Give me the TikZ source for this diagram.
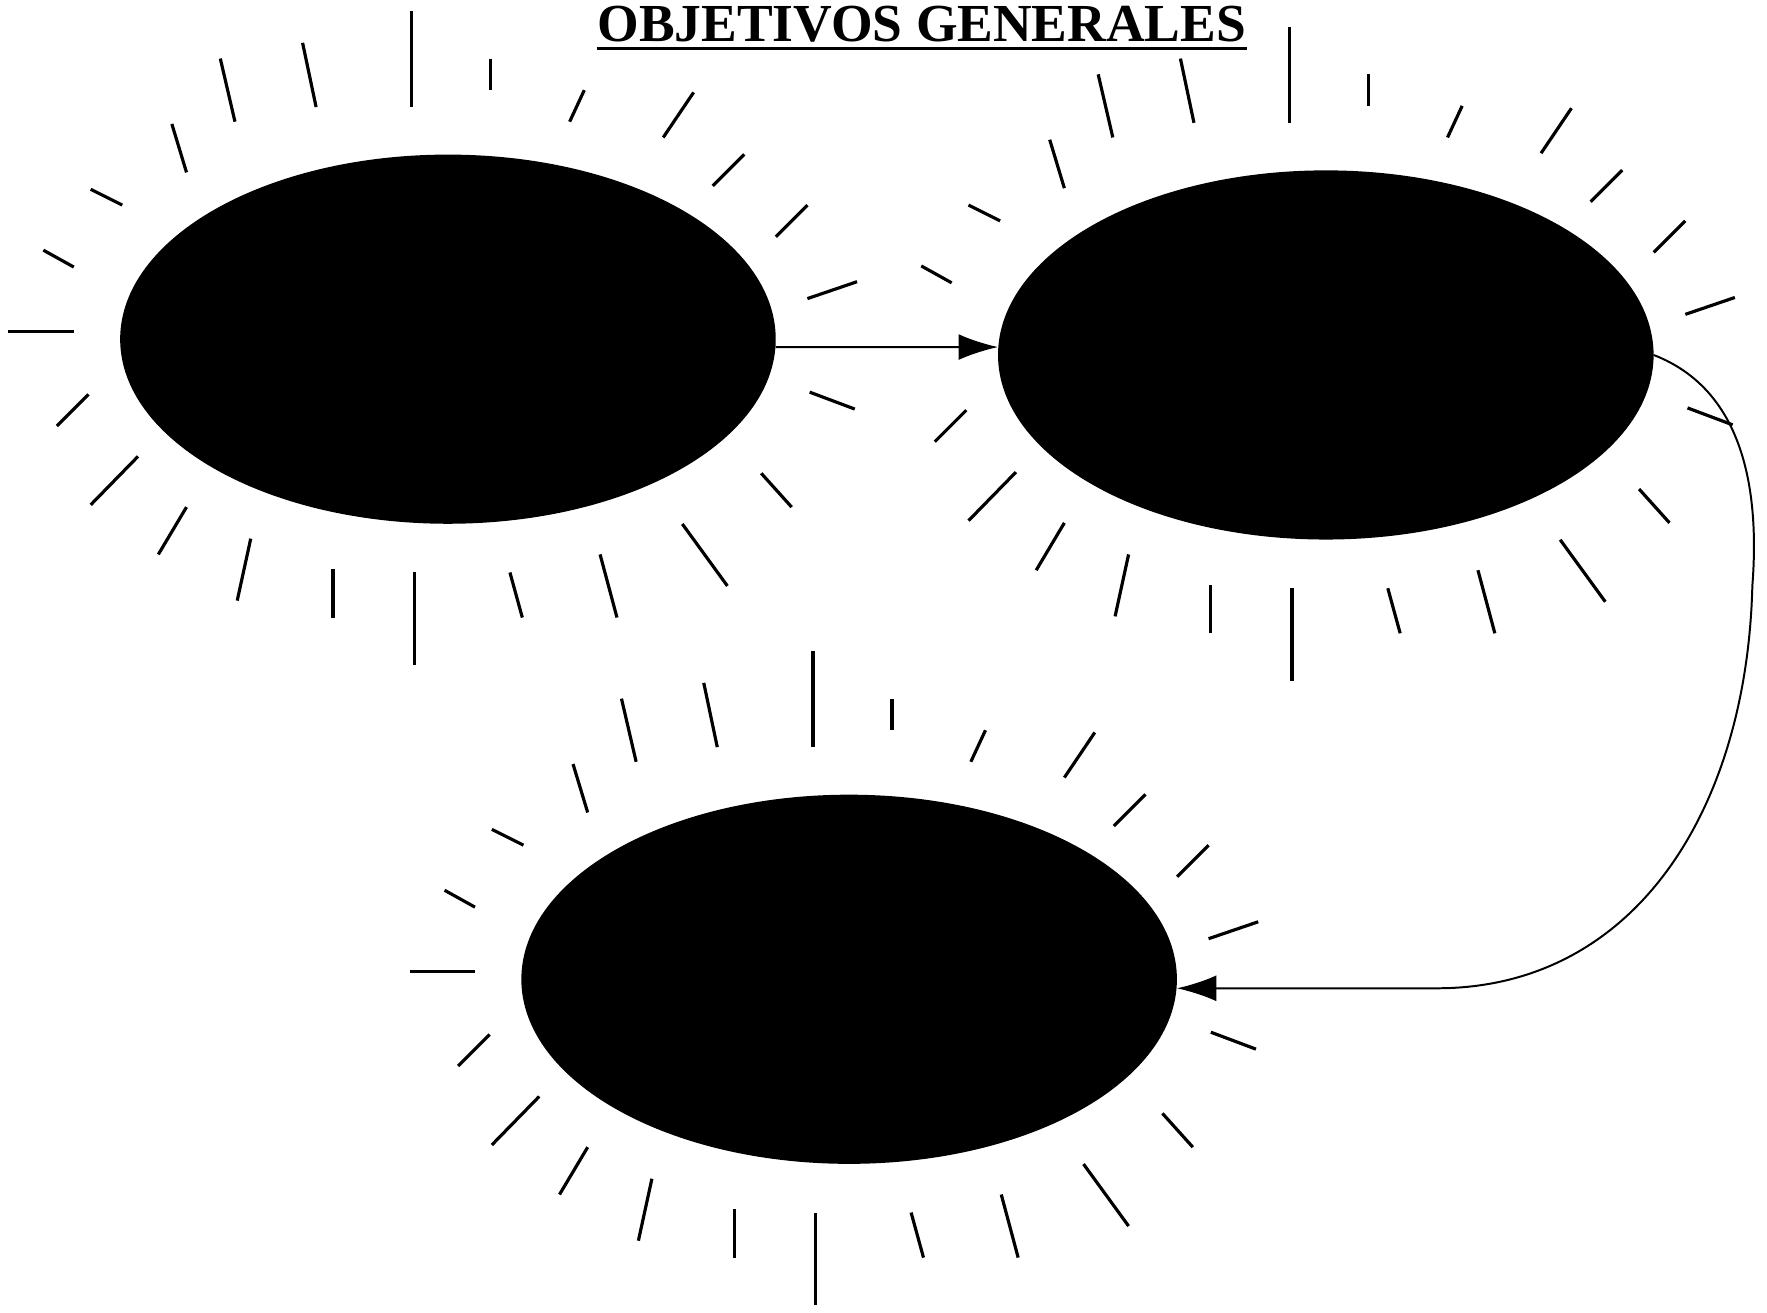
\documentclass[tikz,border=0pt]{standalone}
\usepackage{fontspec}
\setmainfont{Liberation Serif}
\usepackage{tikz}
\usetikzlibrary{shapes.geometric,arrows.meta,positioning}
\tikzset{
  goal/.style    = {ellipse, draw, fill=black, inner sep=0pt,
                    minimum width=5.8cm, minimum height=3.26cm},
  heading/.style = {font=\fontsize{13.5}{16}\selectfont\bfseries, inner sep=0pt},
  arr/.style     = {-{Latex[length=3.5mm,width=2.3mm]}, line width=0.5pt},
  ray/.style     = {line width=0.8pt},
  rays/.pic      = {
    \draw[ray] (-32,-291) -- (-32,-206);
    \draw[ray] (38,-249) -- (38,-221);
    \draw[ray] (-129,-263) -- (-117,-206);
    \draw[ray] (-202,-249) -- (-189,-193);
    \draw[ray] (-245,-191) -- (-232,-148);
    \draw[ray] (-317,-133) -- (-289,-119);
    \draw[ray] (-359,-79) -- (-332,-64);
    \draw[ray] (-347,77) -- (-319,49);
    \draw[ray] (-317,147) -- (-275,104);
    \draw[ray] (-257,191) -- (-232,149);
    \draw[ray] (-187,232) -- (-175,177);
    \draw[ray] (-102,247) -- (-102,204);
    \draw[ray] (-30,289) -- (-30,207);
    \draw[ray] (55,207) -- (66,247);
    \draw[ray] (135,191) -- (150,247);
    \draw[ray] (208,164) -- (248,219);
    \draw[ray] (278,119) -- (305,149);
    \draw[ray] (321,47) -- (361,62);
    \draw[ray] (319,-36) -- (363,-51);
    \draw[ray] (291,-91) -- (319,-119);
    \draw[ray] (235,-136) -- (263,-164);
    \draw[ray] (191,-179) -- (218,-219);
    \draw[ray] (108,-193) -- (121,-221);
  },
  westray/.pic   = {
    \draw[ray] (-390,-7) -- (-332,-7);
  }
}
\begin{document}
\begin{tikzpicture}[x=0.01cm, y=-0.01cm]
\useasboundingbox (0,0) rectangle (1568,1165);
% title
\node[heading, anchor=base] (title) at (818,37) {OBJETIVOS GENERALES};
\draw[line width=0.9pt] ([yshift=-0.06cm]title.base west) -- ([yshift=-0.06cm]title.base east);
% objectives
\node[goal] (first)  at (397.5,301) {};
\node[goal] (second) at (1176.5,315) {};
\node[goal] (third)  at (753.5,869) {};
\pic at (first)  {rays};
\pic at (first)  {westray};
\pic at (second) {rays};
\pic at (third)  {rays};
\pic at (third)  {westray};
% links
\draw[arr] ([yshift=-0.07cm]first.east) -- ([yshift=0.07cm]second.west);
\draw[arr] (second.east) .. controls (1545,345) and (1562,430) .. (1555,520)
           .. controls (1550,720) and (1450,877) .. (1275,877)
           -- ([yshift=-0.08cm]third.east);
\end{tikzpicture}
\end{document}
